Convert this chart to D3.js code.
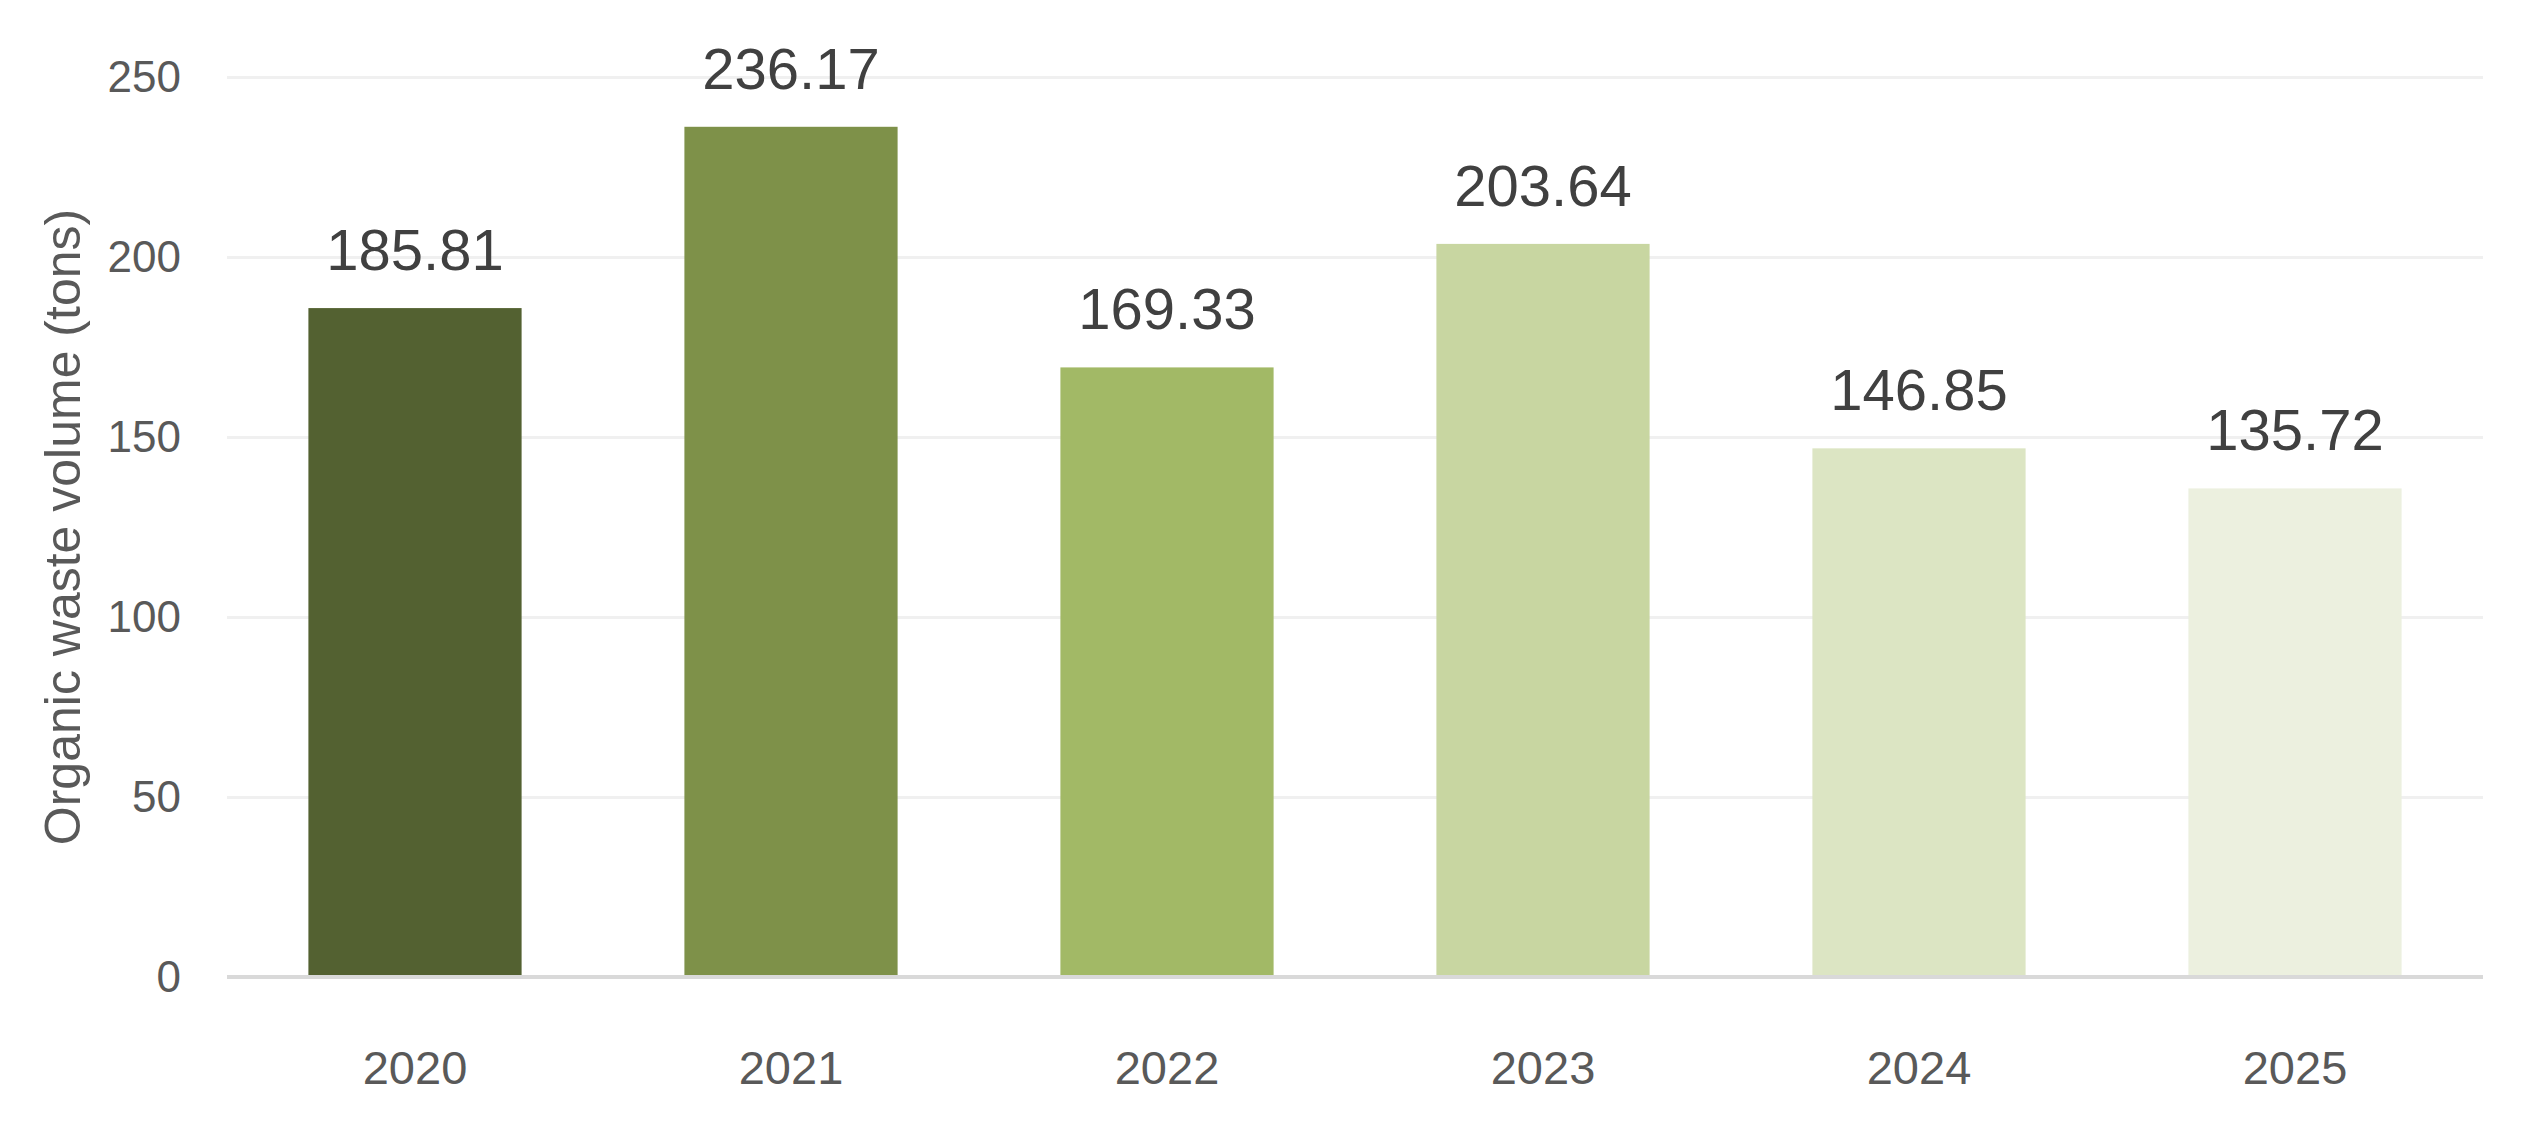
<!DOCTYPE html>
<html>
<head>
<meta charset="utf-8">
<script src="https://cdn.jsdelivr.net/npm/d3@7"></script>
<style>
  html, body { margin: 0; padding: 0; background: #ffffff; }
  svg { display: block; }
  text { font-family: "Liberation Sans", Arial, Helvetica, sans-serif; }
</style>
</head>
<body>
<svg id="chart" width="2540" height="1128"></svg>
<script>
const years = ["2020", "2021", "2022", "2023", "2024", "2025"];
const volumes = [185.81, 236.17, 169.33, 203.64, 146.85, 135.72];
const barColors = ["#536131", "#7E9149", "#A2B966", "#C8D6A1", "#DCE5C3", "#ECF0DF"];
const yTicks = [0, 50, 100, 150, 200, 250];
const yTitle = "Organic waste volume (tons)";

const svg = d3.select("#chart");
const plotLeft = 227, plotRight = 2483, plotTop = 77, plotBottom = 977;

const x = d3.scaleBand().domain(years).range([plotLeft, plotRight])
  .paddingInner(0.433).paddingOuter(0.2165);
const y = d3.scaleLinear().domain([0, 250]).range([plotBottom, plotTop]);

// gridlines
const grid = svg.append("g").attr("transform", `translate(${plotLeft},0)`)
  .call(d3.axisLeft(y).tickValues(yTicks.filter(d => d > 0)).tickSize(-(plotRight - plotLeft)).tickFormat(""));
grid.select(".domain").remove();
grid.selectAll("line").attr("stroke", "#F0F0F0").attr("stroke-width", 3);

// y tick labels
const yAxis = svg.append("g").attr("transform", `translate(${plotLeft},0)`)
  .call(d3.axisLeft(y).tickValues(yTicks).tickSize(0).tickPadding(46).tickFormat(d3.format("d")));
yAxis.select(".domain").remove();
yAxis.selectAll("text").attr("fill", "#595959").attr("font-size", 44)
  .attr("font-family", "'Liberation Sans', Arial, sans-serif");

// bars
svg.append("g").selectAll("rect").data(years).join("rect")
  .attr("x", d => x(d))
  .attr("width", x.bandwidth())
  .attr("y", (d, i) => y(volumes[i]))
  .attr("height", (d, i) => y(0) - y(volumes[i]))
  .attr("fill", (d, i) => barColors[i]);

// zero axis line
svg.append("line")
  .attr("x1", plotLeft).attr("x2", plotRight)
  .attr("y1", y(0)).attr("y2", y(0))
  .attr("stroke", "#D9D9D9").attr("stroke-width", 4);

// value labels
svg.append("g").selectAll("text").data(years).join("text")
  .attr("x", d => x(d) + x.bandwidth() / 2)
  .attr("y", (d, i) => y(volumes[i]) - 38)
  .attr("text-anchor", "middle")
  .attr("font-size", 58)
  .attr("fill", "#404040")
  .text((d, i) => volumes[i].toFixed(2));

// x axis labels
const xAxis = svg.append("g").attr("transform", `translate(0,${plotBottom})`)
  .call(d3.axisBottom(x).tickSize(0).tickPadding(74));
xAxis.select(".domain").remove();
xAxis.selectAll("text").attr("fill", "#595959").attr("font-size", 47)
  .attr("font-family", "'Liberation Sans', Arial, sans-serif");

// y title
svg.append("text")
  .attr("transform", `translate(63,${(plotTop + plotBottom) / 2}) rotate(-90)`)
  .attr("text-anchor", "middle")
  .attr("dominant-baseline", "central")
  .attr("font-size", 50)
  .attr("fill", "#595959")
  .text(yTitle);
</script>
</body>
</html>
